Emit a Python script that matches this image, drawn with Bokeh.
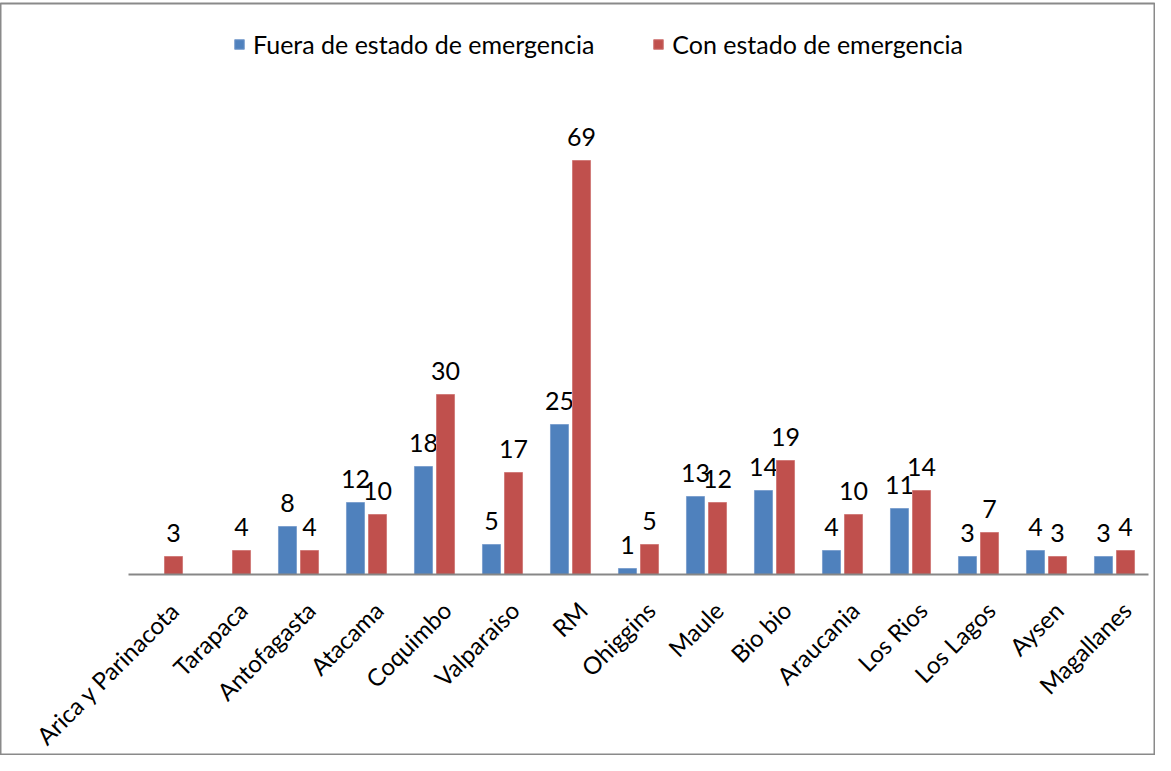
import numpy as np
from math import pi
from bokeh.plotting import figure
from bokeh.models import ColumnDataSource, Range1d, Legend, LegendItem
from bokeh.core.properties import value
from bokeh.embed import file_html
from bokeh.resources import INLINE

# ---- data ----
categories = ["Arica y Parinacota", "Tarapaca", "Antofagasta", "Atacama", "Coquimbo",
              "Valparaiso", "RM", "Ohiggins", "Maule", "Bio bio", "Araucania",
              "Los Rios", "Los Lagos", "Aysen", "Magallanes"]
fuera = [None, None, 8, 12, 18, 5, 25, 1, 13, 14, 4, 11, 3, 4, 3]
con = [3, 4, 4, 10, 30, 17, 69, 5, 12, 19, 10, 14, 7, 3, 4]
series_names = ["Fuera de estado de emergencia", "Con estado de emergencia"]
series_colors = ["#4F81BD", "#C0504D"]
series_edges = ["#7EA1CF", "#D17C7A"]

# ---- layout constants ----
FONT = "Lato"
PX_X, PX_Y = 68.0, 6.0
W, H = 1155, 755
TOP = 3
FRAME_H = H - TOP
X0 = 128   # frame px of first category edge
Y0 = 571   # frame px (from top) of zero line
BAR_W = 0.265
OFF = 0.162

n = len(categories)
xc = np.arange(n) + 0.5

p = figure(width=W, height=H, output_backend="svg", toolbar_location=None,
           x_range=Range1d(-X0 / PX_X, (W - X0) / PX_X),
           y_range=Range1d(-(FRAME_H - Y0) / PX_Y, Y0 / PX_Y),
           x_axis_location=None, y_axis_location=None,
           min_border_left=0, min_border_right=0, min_border_top=TOP, min_border_bottom=0)
p.grid.visible = False
p.outline_line_color = "#8A8A8A"
p.outline_line_width = 2
p.background_fill_color = "white"
p.border_fill_color = "white"

renderers = []
for vals, off, col, edge in zip([fuera, con], [-OFF, OFF], series_colors, series_edges):
    top = np.array([np.nan if v is None else v for v in vals], dtype=float)
    src = ColumnDataSource(dict(x=xc + off, top=top))
    r = p.vbar(x="x", top="top", width=BAR_W, bottom=0, source=src,
               fill_color=col, line_color=edge, line_width=1)
    renderers.append(r)
    mask = ~np.isnan(top)
    lsrc = ColumnDataSource(dict(x=(xc + off)[mask], y=top[mask],
                                 t=[str(int(v)) for v in top[mask]]))
    p.text(x="x", y="y", text="t", source=lsrc, text_align="center",
           text_baseline="alphabetic", y_offset=-24, text_font=value(FONT),
           text_font_size="25px", text_color="#000000")

# axis baseline
p.segment(x0=[0], y0=[0], x1=[n], y1=[0], line_color="#878787", line_width=2)

# category labels
csrc = ColumnDataSource(dict(x=xc, y=np.zeros(n), t=categories))
p.text(x="x", y="y", text="t", source=csrc, angle=pi / 4, text_align="right",
       text_baseline="top", x_offset=2, y_offset=21, text_font=value(FONT),
       text_font_size="24px", text_color="#000000")

legend = Legend(items=[LegendItem(label=series_names[i], renderers=[renderers[i]]) for i in range(2)],
                orientation="horizontal", location=(233, FRAME_H - 41 - 15),
                glyph_width=12, glyph_height=12, label_standoff=8, spacing=58,
                padding=0, margin=0, border_line_color=None, background_fill_alpha=0,
                label_text_font=FONT, label_text_font_size="25px", label_height=30,
                label_text_color="#000000")
p.add_layout(legend)

open("out.html", "w").write(file_html(p, INLINE))
